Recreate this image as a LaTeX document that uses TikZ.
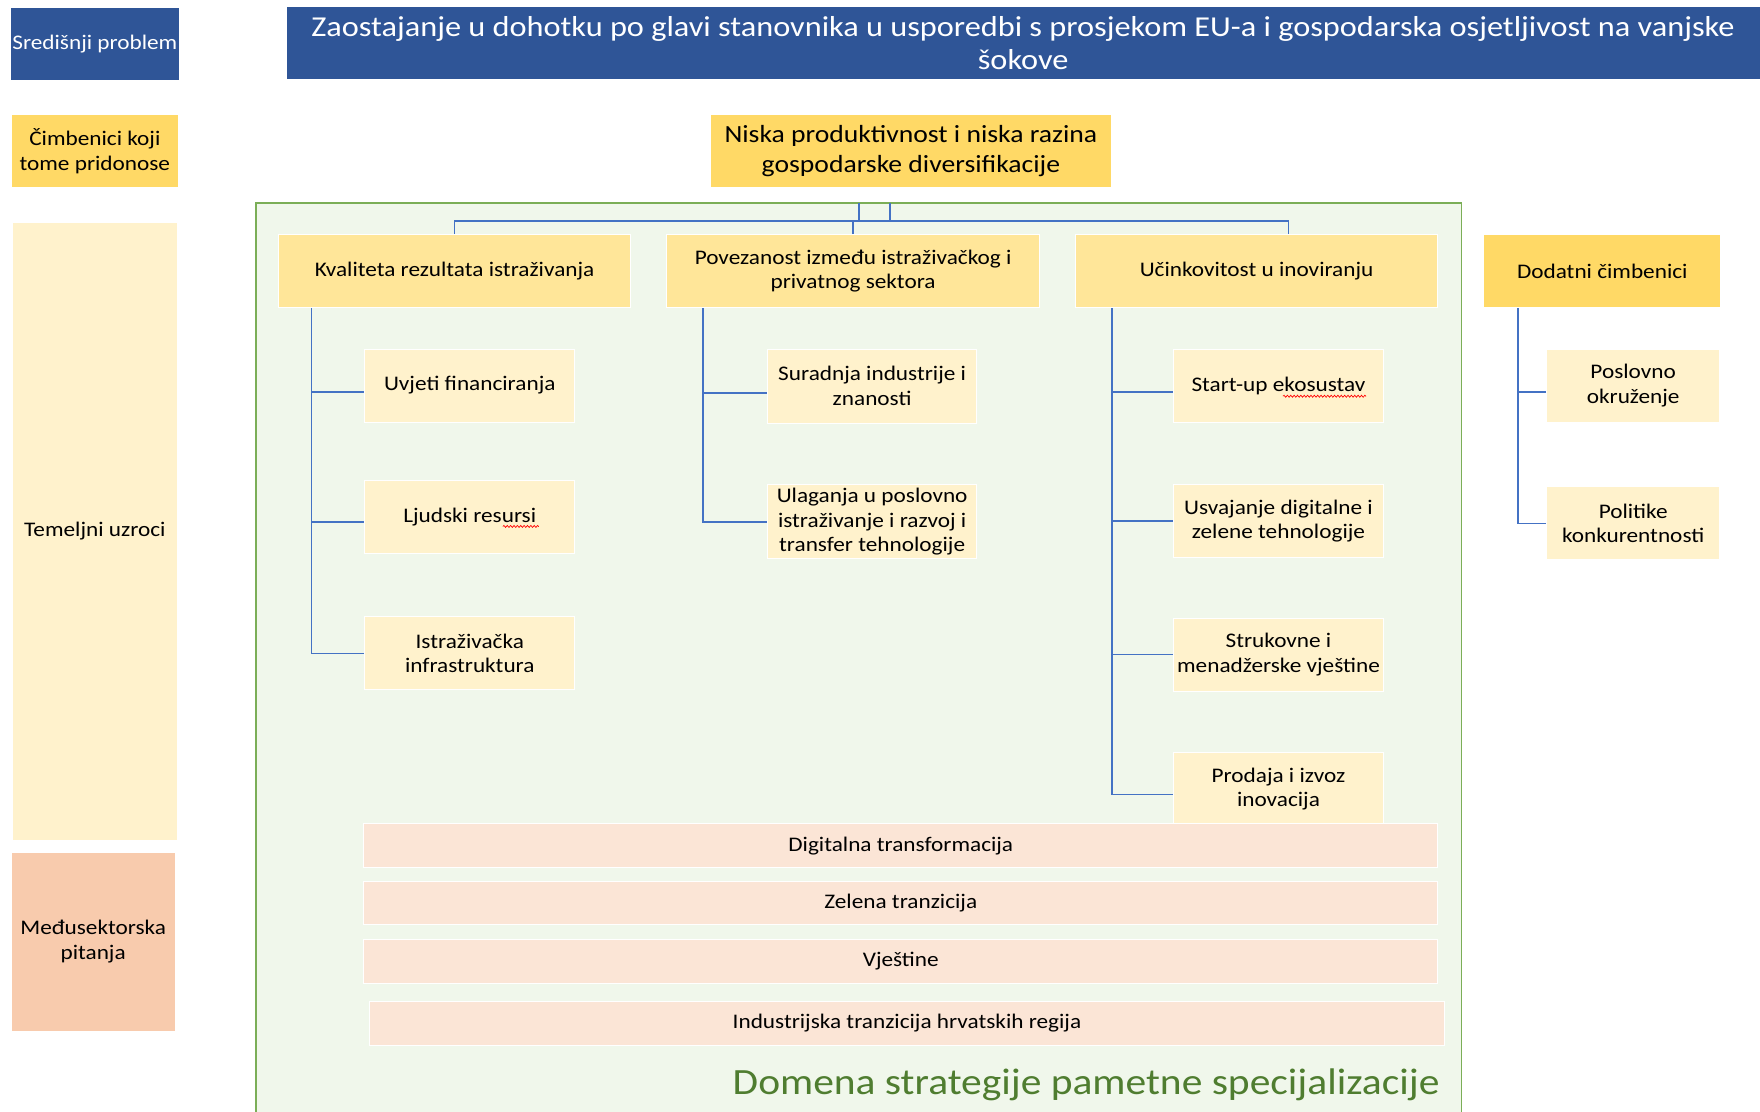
\documentclass[tikz,border=0pt]{standalone}
\usepackage{fontspec}
\setmainfont[FakeStretch=1.12]{Carlito}
\usetikzlibrary{positioning,decorations.pathmorphing}

\definecolor{plava}{HTML}{2F5597}
\definecolor{zlatna}{HTML}{FFD966}
\definecolor{svjzlatna}{HTML}{FFE699}
\definecolor{krem}{HTML}{FFF2CC}
\definecolor{breskva}{HTML}{F8CBAD}
\definecolor{svjbreskva}{HTML}{FBE5D6}
\definecolor{zelenapoz}{HTML}{F0F7EB}
\definecolor{zelenarub}{HTML}{7BAE57}
\definecolor{zelenatxt}{HTML}{4F7D30}
\definecolor{veznica}{HTML}{4472C4}

\tikzset{
  kutija/.style={draw=white, line width=0.8pt, inner sep=2pt, align=center,
    font=\fontsize{18.5}{22}\selectfont, text=black},
  glavni/.style={kutija, fill=plava, text=white},
  uzrok/.style={kutija, fill=svjzlatna, minimum height=65pt},
  pod/.style={kutija, fill=krem, minimum width=187pt, minimum height=65pt},
  traka/.style={kutija, fill=svjbreskva, minimum width=957pt, minimum height=39pt},
  veza/.style={draw=veznica, line width=1.5pt},
  pravopis/.style={draw=red, line width=0.6pt, decorate,
    decoration={snake, amplitude=0.9pt, segment length=3pt}}
}

\begin{document}
\begin{tikzpicture}[x=1pt, y=-1pt]
  \useasboundingbox (0,0) rectangle (1568,990);

  % domena
  \draw[fill=zelenapoz, draw=zelenarub, line width=1.5pt] (228,181) rectangle (1302,1000);
  \node[anchor=base east, text=zelenatxt, font=\fontsize{33}{39}\selectfont] (domena) at (1286,975) {Domena strategije pametne specijalizacije};

  % lijevi stupac
  \node[glavni, minimum width=149pt, minimum height=65pt] (prob) at (84.5,39.5) {Središnji problem};
  \node[kutija, fill=zlatna, minimum width=149pt, minimum height=65pt] (cimb) at (84.5,134.5) {Čimbenici koji\\tome pridonose};
  \node[kutija, fill=krem, minimum width=147pt, minimum height=551pt] (temelj) at (84.5,473.5) {Temeljni uzroci};
  \node[kutija, fill=breskva, minimum width=146pt, minimum height=160pt] (medju) at (83,839) {Međusektorska\\pitanja};

  % vrh
  \node[glavni, minimum width=1313pt, minimum height=65pt, font=\fontsize{25.7}{30}\selectfont] (naslov) at (911.5,38.5)
    {Zaostajanje u dohotku po glavi stanovnika u usporedbi s prosjekom EU-a i gospodarska osjetljivost na vanjske\\šokove};
  \node[kutija, fill=zlatna, minimum width=357pt, minimum height=65pt, font=\fontsize{22}{27}\selectfont] (niska) at (811.5,134.5)
    {Niska produktivnost i niska razina\\gospodarske diversifikacije};

  % uzroci
  \node[uzrok, minimum width=314pt] (kval) at (405,241.5) {Kvaliteta rezultata istraživanja};
  \node[uzrok, minimum width=332pt] (pov) at (760,241.5) {Povezanost između istraživačkog i\\privatnog sektora};
  \node[uzrok, minimum width=323pt] (ucin) at (1119.5,241.5) {Učinkovitost u inoviranju};
  \node[uzrok, fill=zlatna, minimum width=211pt] (dod) at (1427.5,241.5) {Dodatni čimbenici};

  \node[pod] (k1) at (418.5,343.5) {Uvjeti financiranja};
  \node[pod] (k2) [below=51pt of k1] {Ljudski resursi};
  \node[pod] (k3) [below=56pt of k2] {Istraživačka\\infrastruktura};

  \node[pod, minimum width=186pt, minimum height=66pt] (p1) at (777,344) {Suradnja industrije i\\znanosti};
  \node[pod, minimum width=186pt, minimum height=66pt] (p2) [below=54pt of p1] {Ulaganja u poslovno\\istraživanje i razvoj i\\transfer tehnologije};

  \node[pod] (u1) at (1139,343.5) {Start-up ekosustav};
  \node[pod] (u2) [below=55pt of u1] {Usvajanje digitalne i\\zelene tehnologije};
  \node[pod] (u3) [below=53pt of u2] {Strukovne i\\menadžerske vještine};
  \node[pod] (u4) [below=54pt of u3] {Prodaja i izvoz\\inovacija};

  \node[pod, minimum width=154pt] (d1) at (1455,343.5) {Poslovno\\okruženje};
  \node[pod, minimum width=154pt] (d2) [below=57pt of d1] {Politike\\konkurentnosti};

  % medjusektorska
  \node[traka] (x1) at (802.5,753.5) {Digitalna transformacija};
  \node[traka] (x2) at (802.5,804.5) {Zelena tranzicija};
  \node[traka] (x3) at (802.5,856.5) {Vještine};
  \node[traka] (x4) at (808,911.5) {Industrijska tranzicija hrvatskih regija};

  % veze
  \coordinate (t1) at (405,197);
  \coordinate (t3) at (1148,197);
  \draw[veza] (765,181) -- (765,197) -- (793,197) -- (793,181);
  \draw[veza] (t1 |- kval.north) -- (t1) -- (t3) -- (t3 |- ucin.north);
  \draw[veza] (pov.north) -- (pov.north |- t1);

  \draw[veza] ([xshift=30pt]kval.south west) |- (k3.west);
  \draw[veza] ([xshift=30pt]kval.south west |- k1.west) ++(0,6) -- ([yshift=-6pt]k1.west);
  \draw[veza] ([xshift=30pt]kval.south west |- k2.west) ++(0,5) -- ([yshift=-5pt]k2.west);

  \draw[veza] ([xshift=33pt]pov.south west) |- (p2.west);
  \draw[veza] ([xshift=33pt]pov.south west |- p1.west) ++(0,6) -- ([yshift=-6pt]p1.west);

  \draw[veza] ([xshift=33pt]ucin.south west) |- ([yshift=-5pt]u4.west);
  \draw[veza] ([xshift=33pt]ucin.south west |- u1.west) ++(0,6) -- ([yshift=-6pt]u1.west);
  \draw[veza] ([xshift=33pt]ucin.south west |- u2.west) -- (u2.west);
  \draw[veza] ([xshift=33pt]ucin.south west |- u3.west) -- (u3.west);

  \draw[veza] ([xshift=31pt]dod.south west) |- (d2.west);
  \draw[veza] ([xshift=31pt]dod.south west |- d1.west) ++(0,6) -- ([yshift=-6pt]d1.west);

  % podcrtano
  \draw[pravopis] (1143,353) -- (1217,353);
  \draw[pravopis] (448,469) -- (480,469);
\end{tikzpicture}
\end{document}
